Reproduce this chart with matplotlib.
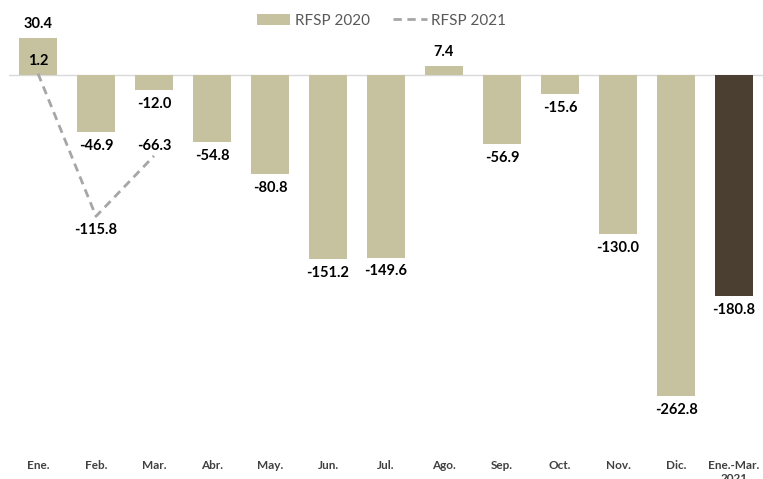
import matplotlib
matplotlib.use("Agg")
import matplotlib.pyplot as plt
import numpy as np

categories = ["Ene.", "Feb.", "Mar.", "Abr.", "May.", "Jun.", "Jul.", "Ago.", "Sep.", "Oct.", "Nov.", "Dic.", "Ene.-Mar.\n2021"]
rfsp_2020 = [30.4, -46.9, -12.0, -54.8, -80.8, -151.2, -149.6, 7.4, -56.9, -15.6, -130.0, -262.8, -180.8]
rfsp_2021 = [1.2, -115.8, -66.3]

plt.rcParams['font.family'] = ['Lato', 'DejaVu Sans']

fig = plt.figure(figsize=(7.63, 4.79), dpi=100)
ax = fig.add_axes([9/763, (479-441)/479, (763-9)/763, 441/479])

x = np.arange(len(categories))
colors = ["#C6C29F"] * (len(categories) - 1) + ["#4A3F30"]
bars = ax.bar(x, rfsp_2020, width=0.64, color=colors, label="RFSP 2020", zorder=2)
ax.axhline(0, color="#D9D9D9", lw=1, zorder=1)
line, = ax.plot(x[:len(rfsp_2021)], rfsp_2021, ls=(0, (3, 2)), color="#A6A6A6", lw=2, label="RFSP 2021", zorder=3)

for xi, v in zip(x, rfsp_2020):
    if v >= 0:
        ax.annotate(f"{v:.1f}", (xi, v), xytext=(0, 5), textcoords="offset points",
                    ha="center", va="bottom", fontsize=10.5, fontweight="bold", color="black")
    else:
        ax.annotate(f"{v:.1f}", (xi, v), xytext=(0, -5), textcoords="offset points",
                    ha="center", va="top", fontsize=10.5, fontweight="bold", color="black")

offs = [(0, 4, "bottom"), (0, -5, "top"), (0, 2, "bottom")]
for xi, v, (dx, dy, va) in zip(x, rfsp_2021, offs):
    ax.annotate(f"{v:.1f}", (xi, v), xytext=(dx, dy), textcoords="offset points",
                ha="center", va=va, fontsize=10.5, fontweight="bold", color="black")

ax.set_xlim(-0.5, len(categories) - 0.5)
ax.set_ylim(-300, 61.5)
ax.set_xticks(x)
ax.set_xticklabels(categories, fontsize=8.5, fontweight="bold", color="#404040", va="top")
ax.tick_params(axis="x", length=0, pad=14)
ax.set_yticks([])
for s in ax.spines.values():
    s.set_visible(False)

leg = fig.legend(handles=[bars, line], labels=["RFSP 2020", "RFSP 2021"],
                 loc="upper center", bbox_to_anchor=(0.5, 1.0), ncol=2, frameon=False,
                 fontsize=11, handlelength=2.2, columnspacing=1.5, handletextpad=0.3)
for t in leg.get_texts():
    t.set_color("#595959")

fig.savefig("out.png", dpi=100)
